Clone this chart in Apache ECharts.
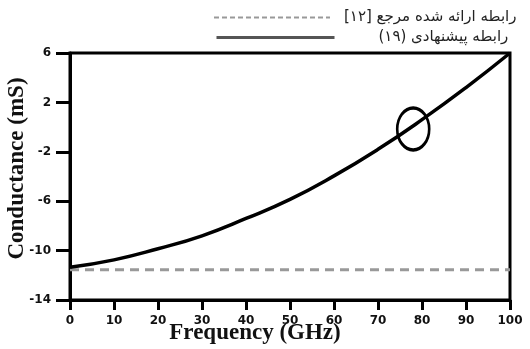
<!DOCTYPE html>
<html>
<head>
<meta charset="utf-8">
<script src="https://cdn.jsdelivr.net/npm/echarts@6/dist/echarts.min.js"></script>
<style>
  html, body { margin: 0; padding: 0; background: #fff; }
  #chart { width: 530px; height: 349px; }
</style>
</head>
<body>
<div id="chart"></div>
<script>
// داده‌ها
const freqs = [0, 10, 20, 30, 40, 50, 60, 70, 80, 90, 100];
const proposed = [-11.35, -10.75, -9.85, -8.8, -7.4, -5.85, -3.95, -1.8, 0.6, 3.2, 6.0];
const refFreqs = [0, 100];
const reference = [-11.55, -11.55];
const yTicks = [-14, -10, -6, -2, 2, 6];
const marker = [[78, -0.15]];

const nameRef = "رابطه ارائه شده مرجع [۱۲]\u200F";
const nameProp = "رابطه پیشنهادی (۱۹)\u200F";

let chart = echarts.init(document.getElementById("chart"));
chart.setOption({
  animation: false,
  grid: {
    left: 70, right: 20, top: 53, bottom: 49,
    containLabel: false, outerBoundsMode: "none",
    show: true, borderColor: "#000", borderWidth: 3
  },
  legend: [
    {
      data: [{ name: nameRef, itemStyle: { opacity: 0 }, lineStyle: { width: 2, type: [5, 3], color: "#999" } }],
      left: 208, top: 5,
      itemWidth: 116, itemHeight: 10,
      textStyle: { fontFamily: "DejaVu Sans", fontSize: 15, color: "#222", padding: [0, 0, 0, 9] }
    },
    {
      data: [{ name: nameProp, itemStyle: { opacity: 0 }, lineStyle: { width: 3, color: "#555" } }],
      left: 210, top: 25,
      itemWidth: 118, itemHeight: 10,
      textStyle: { fontFamily: "DejaVu Sans", fontSize: 15, color: "#222", padding: [0, 0, 0, 39] }
    }
  ],
  xAxis: {
    type: "value", min: 0, max: 100, interval: 10,
    name: "Frequency (GHz)", nameLocation: "middle", nameGap: 22, nameMoveOverlap: false,
    nameTextStyle: { fontFamily: "Liberation Serif", fontWeight: "bold", fontSize: 23, color: "#111", padding: [0, 70, 0, 0] },
    axisLine: { onZero: false, lineStyle: { color: "#000", width: 3 } },
    axisTick: { show: true, length: 10, inside: false, lineStyle: { color: "#000", width: 3 } },
    axisLabel: { margin: 15, fontFamily: "DejaVu Sans", fontWeight: "bold", fontSize: 12, color: "#111" },
    splitLine: { show: false }
  },
  yAxis: {
    type: "value", min: -14, max: 6,
    name: "Conductance (mS)", nameLocation: "middle", nameGap: 41, nameMoveOverlap: false,
    nameTextStyle: { fontFamily: "Liberation Serif", fontWeight: "bold", fontSize: 23, color: "#111", padding: [0, 0, 0, 16] },
    axisLine: { show: true, onZero: false, lineStyle: { color: "#000", width: 3 } },
    axisTick: { show: true, length: 14, customValues: yTicks, lineStyle: { color: "#000", width: 3 } },
    axisLabel: { customValues: yTicks, margin: 19, fontFamily: "DejaVu Sans", fontWeight: "bold", fontSize: 12, color: "#111" },
    splitLine: { show: false }
  },
  series: [
    {
      name: nameRef,
      type: "line",
      symbol: "none",
      data: refFreqs.map((f, i) => [f, reference[i]]),
      lineStyle: { color: "#999", width: 3, type: [9, 6] },
      itemStyle: { color: "#999" },
      z: 2
    },
    {
      name: nameProp,
      type: "line",
      symbol: "none",
      smooth: true,
      data: freqs.map((f, i) => [f, proposed[i]]),
      lineStyle: { color: "#000", width: 3.5 },
      itemStyle: { color: "#555" },
      z: 3
    },
    {
      type: "scatter",
      data: marker,
      symbol: "circle",
      symbolSize: [32, 42],
      itemStyle: { color: "transparent", borderColor: "#000", borderWidth: 3, opacity: 1 },
      silent: true,
      z: 4
    }
  ]
});
</script>
</body>
</html>
